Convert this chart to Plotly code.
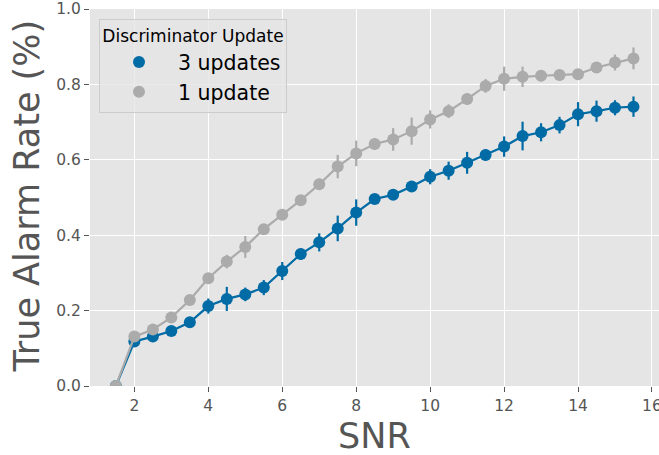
import plotly.graph_objects as go

snr = [1.5, 2, 2.5, 3, 3.5, 4, 4.5, 5, 5.5, 6, 6.5, 7, 7.5, 8, 8.5, 9, 9.5,
       10, 10.5, 11, 11.5, 12, 12.5, 13, 13.5, 14, 14.5, 15, 15.5]

upd3 = [0.0, 0.118, 0.131, 0.146, 0.169, 0.212, 0.231, 0.243, 0.261, 0.305,
        0.350, 0.381, 0.418, 0.460, 0.496, 0.507, 0.529, 0.555, 0.571, 0.592,
        0.613, 0.635, 0.663, 0.673, 0.692, 0.721, 0.729, 0.738, 0.741]
upd3_err = [0.0, 0.01, 0.01, 0.01, 0.012, 0.02, 0.032, 0.018, 0.02, 0.024,
            0.015, 0.024, 0.034, 0.035, 0.01, 0.012, 0.012, 0.02, 0.024, 0.029,
            0.015, 0.027, 0.038, 0.024, 0.022, 0.032, 0.028, 0.02, 0.027]

upd1 = [0.0, 0.131, 0.150, 0.182, 0.228, 0.286, 0.330, 0.369, 0.416, 0.454,
        0.493, 0.535, 0.582, 0.617, 0.642, 0.654, 0.676, 0.707, 0.729, 0.761,
        0.796, 0.815, 0.820, 0.823, 0.825, 0.827, 0.845, 0.858, 0.869]
upd1_err = [0.0, 0.01, 0.01, 0.01, 0.01, 0.012, 0.018, 0.029, 0.012, 0.012,
            0.012, 0.015, 0.031, 0.034, 0.015, 0.03, 0.036, 0.024, 0.018, 0.015,
            0.018, 0.032, 0.027, 0.015, 0.015, 0.012, 0.012, 0.021, 0.029]

series = [("3 updates", upd3, upd3_err, "#006BA4"),
          ("1 update", upd1, upd1_err, "#ABABAB")]

fig = go.Figure()
for name, vals, errs, col in series:
    fig.add_trace(go.Scatter(
        x=snr, y=vals, mode="lines+markers", name=name, showlegend=False,
        line=dict(color=col, width=2.2),
        marker=dict(color=col, size=12),
        error_y=dict(type="data", array=errs, visible=True, color=col,
                     thickness=2.2, width=0),
    ))
for name, vals, errs, col in series:
    fig.add_trace(go.Scatter(
        x=[None], y=[None], mode="markers", name=name,
        marker=dict(color=col, size=12),
    ))

axis_common = dict(
    showgrid=True, gridcolor="white", gridwidth=1.2, zeroline=False,
    showline=False, ticks="outside", ticklen=5, tickwidth=1,
    tickcolor="#555555", tickfont=dict(family="DejaVu Sans", size=15.5,
                                       color="#555555"),
    automargin=False, ticklabeloverflow="allow",
)
fig.update_xaxes(range=[0.8, 16.19], tickvals=[2, 4, 6, 8, 10, 12, 14, 16],
                 **axis_common)
fig.update_yaxes(range=[0, 1], tickvals=[0, 0.2, 0.4, 0.6, 0.8, 1.0],
                 tickformat=".1f", **axis_common)

fig.add_annotation(text="SNR", xref="paper", yref="paper", x=0.5, y=-0.1326,
                   xanchor="center", yanchor="middle", showarrow=False,
                   font=dict(family="DejaVu Sans", size=35, color="#555555"))
fig.add_annotation(text="True Alarm Rate (%)", xref="paper", yref="paper",
                   x=-0.1107, y=0.503, xanchor="center", yanchor="middle",
                   textangle=-90, showarrow=False,
                   font=dict(family="DejaVu Sans", size=35, color="#555555"))

fig.update_layout(
    width=659, height=455,
    margin=dict(l=90, r=0, t=9, b=69),
    paper_bgcolor="white", plot_bgcolor="#E5E5E5",
    font=dict(family="DejaVu Sans"),
    legend=dict(
        x=0.0158, y=0.973, xanchor="left", yanchor="top",
        bgcolor="rgba(229,229,229,0.8)", bordercolor="#cccccc", borderwidth=1,
        font=dict(size=20.5, color="black"),
        title=dict(text="Discriminator Update", side="top center",
                   font=dict(size=17, color="black")),
        itemwidth=68,
    ),
)

fig.write_html("out.html",
               config={"displayModeBar": False},
               post_script="document.body.style.margin='0';"
                           "document.body.style.overflow='hidden';")
